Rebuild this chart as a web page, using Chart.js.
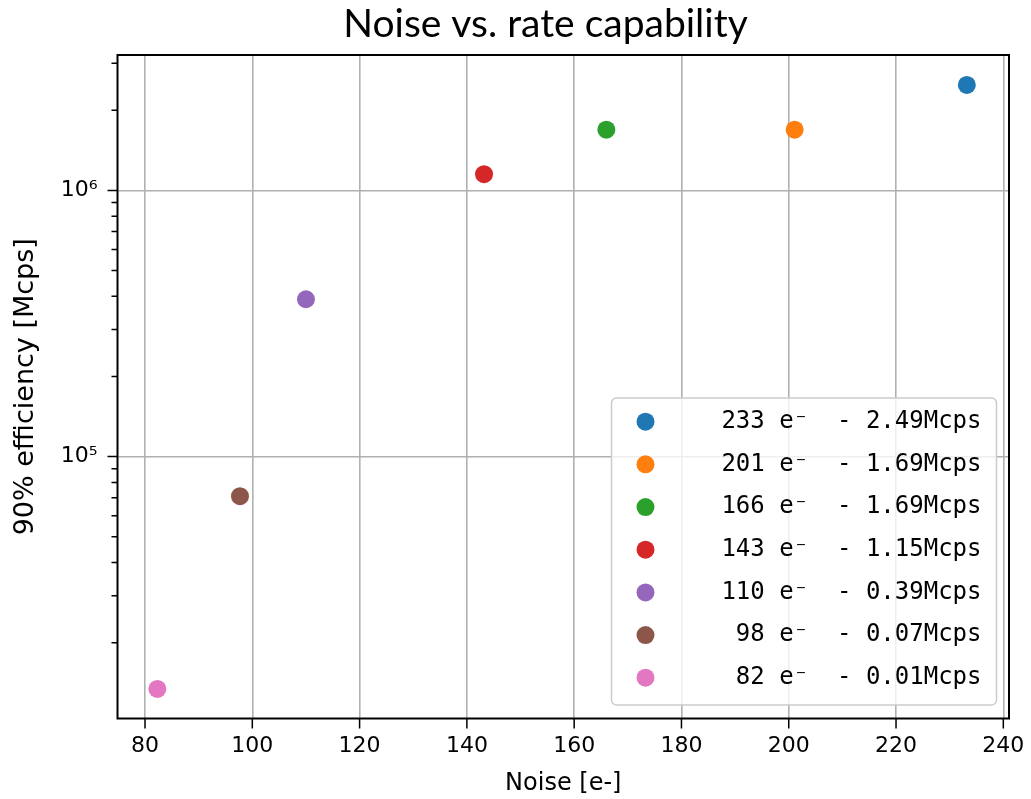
<!DOCTYPE html>
<html>
<head>
<meta charset="utf-8">
<script src="https://cdn.jsdelivr.net/npm/chart.js@4"></script>
<style>
  html, body { margin: 0; padding: 0; background: #fff; }
</style>
</head>
<body>
<canvas id="myChart" width="1031" height="799"></canvas>
<script>
const chartTitle = "Noise vs. rate capability";
const noise = [233.2, 201.1, 166.0, 143.2, 110.0, 97.7, 82.3];
const rate = [2490000, 1690000, 1690000, 1150000, 390000, 71000, 13400];
const seriesLabels = [
    "233 e⁻  - 2.49Mcps",
    "201 e⁻  - 1.69Mcps",
    "166 e⁻  - 1.69Mcps",
    "143 e⁻  - 1.15Mcps",
    "110 e⁻  - 0.39Mcps",
    " 98 e⁻  - 0.07Mcps",
    " 82 e⁻  - 0.01Mcps"
];
const xTickValues = [80, 100, 120, 140, 160, 180, 200, 220, 240];
const yDecades = [4, 5, 6];
const xRange = [74.87, 241.06];
const yRange = [10380, 3225000];

const colors = ["#1f77b4", "#ff7f0e", "#2ca02c", "#d62728", "#9467bd", "#8c564b", "#e377c2"];
const gridColor = "#b0b0b0";

const supDigits = {"0":"⁰","1":"¹","2":"²","3":"³","4":"⁴","5":"⁵","6":"⁶","7":"⁷","8":"⁸","9":"⁹","-":"⁻"};
const isPow10 = v => Math.abs(Math.log10(v) - Math.round(Math.log10(v))) < 1e-9;

// log ticks: 1..9 x 10^k inside the visible range
const yTickValues = [];
yDecades.forEach(k => {
    for (let m = 1; m <= 9; m++) {
        const v = m * Math.pow(10, k);
        if (v >= yRange[0] && v <= yRange[1]) yTickValues.push(v);
    }
});

const datasets = noise.map((x, i) => ({
    label: seriesLabels[i],
    data: [{x: x, y: rate[i]}],
    backgroundColor: colors[i],
    borderWidth: 0,
    pointRadius: 9,
    pointHoverRadius: 9
}));

// frame, tick marks, legend box and title, drawn on top of the points
const extras = {
    id: "extras",
    afterDatasetsDraw(chart) {
        const {ctx, chartArea: a, scales} = chart;
        ctx.save();
        ctx.strokeStyle = "#000";
        ctx.lineWidth = 1.5;
        ctx.beginPath();
        scales.x.ticks.forEach(t => {
            const px = scales.x.getPixelForValue(t.value);
            ctx.moveTo(px, a.bottom);
            ctx.lineTo(px, a.bottom + 10);
        });
        scales.y.ticks.forEach(t => {
            const py = scales.y.getPixelForValue(t.value);
            const len = isPow10(t.value) ? 10 : 6;
            ctx.moveTo(a.left - len, py);
            ctx.lineTo(a.left, py);
        });
        ctx.stroke();

        ctx.lineWidth = 2;
        ctx.strokeRect(a.left, a.top, a.right - a.left, a.bottom - a.top);

        // legend
        const w = 385, h = 307;
        const right = a.right - 12.5, bottom = a.bottom - 13.5;
        const left = right - w, top = bottom - h;
        ctx.beginPath();
        ctx.roundRect(left, top, w, h, 5);
        ctx.fillStyle = "rgba(255,255,255,0.8)";
        ctx.fill();
        ctx.strokeStyle = "#cccccc";
        ctx.lineWidth = 1.5;
        ctx.stroke();

        ctx.font = "24px 'DejaVu Sans Mono'";
        ctx.textAlign = "right";
        ctx.textBaseline = "middle";
        chart.data.datasets.forEach((ds, i) => {
            const y = top + 23.7 + i * 42.67;
            ctx.beginPath();
            ctx.arc(left + 34, y, 9, 0, Math.PI * 2);
            ctx.fillStyle = ds.backgroundColor;
            ctx.fill();
            ctx.fillStyle = "#000";
            ctx.fillText(ds.label, right - 15, y);
        });
        ctx.restore();
    },
    afterDraw(chart) {
        const ctx = chart.ctx;
        ctx.save();
        ctx.font = "39px Lato";
        ctx.fillStyle = "#000";
        ctx.textAlign = "center";
        ctx.textBaseline = "alphabetic";
        ctx.fillText(chartTitle, 545.5, 37);
        ctx.restore();
    }
};

Chart.defaults.color = "#000";
Chart.defaults.font.family = "'DejaVu Sans'";

const ctx = document.getElementById("myChart");

new Chart(ctx, {
    type: "scatter",
    data: { datasets: datasets },
    plugins: [extras],
    options: {
        responsive: false,
        animation: false,
        devicePixelRatio: 1,
        layout: {
            padding: { top: 55, right: 22, bottom: 0, left: 0 }
        },
        scales: {
            x: {
                type: "linear",
                bounds: "data",
                min: xRange[0],
                max: xRange[1],
                afterBuildTicks: scale => {
                    scale.ticks = xTickValues.map(v => ({value: v}));
                },
                afterFit: scale => {
                    scale.height = 80.5;
                    scale.paddingLeft = 0;
                    scale.paddingRight = 0;
                },
                grid: {
                    color: gridColor,
                    lineWidth: 1.6,
                    drawTicks: false
                },
                border: { display: false },
                ticks: {
                    autoSkip: false,
                    maxRotation: 0,
                    padding: 15,
                    font: { size: 22 }
                },
                title: {
                    display: true,
                    text: "Noise [e-]",
                    font: { size: 24 },
                    padding: { top: 0, bottom: 1 }
                }
            },
            y: {
                type: "logarithmic",
                bounds: "data",
                min: yRange[0],
                max: yRange[1],
                afterBuildTicks: scale => {
                    scale.ticks = yTickValues.map(v => ({value: v, major: isPow10(v)}));
                },
                afterFit: scale => {
                    scale.width = 117.5;
                    scale.paddingTop = 0;
                    scale.paddingBottom = 0;
                },
                grid: {
                    color: c => (c.tick && isPow10(c.tick.value)) ? gridColor : "transparent",
                    lineWidth: 1.6,
                    drawTicks: false
                },
                border: { display: false },
                ticks: {
                    autoSkip: false,
                    padding: 20,
                    font: { size: 22 },
                    callback: v => {
                        if (!isPow10(v)) return "";
                        const e = String(Math.round(Math.log10(v)));
                        return "10" + e.split("").map(d => supDigits[d]).join("");
                    }
                },
                title: {
                    display: true,
                    text: "90% efficiency [Mcps]",
                    font: { size: 27 },
                    padding: { top: 10, bottom: 0 }
                }
            }
        },
        plugins: {
            legend: { display: false },
            tooltip: { enabled: false },
            title: { display: false }
        }
    }
});
</script>
</body>
</html>
